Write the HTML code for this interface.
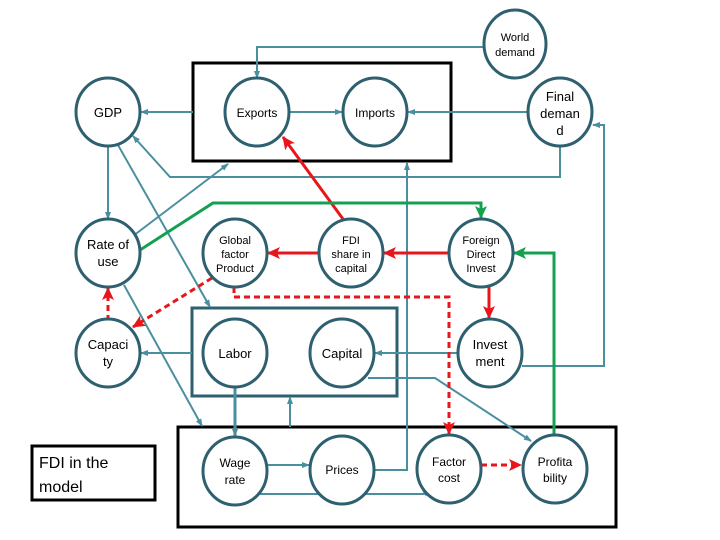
<!DOCTYPE html>
<html><head><meta charset="utf-8"><style>
html,body{margin:0;padding:0;background:#fff;}
svg{display:block;}
text{font-family:"Liberation Sans",sans-serif;fill:#000;}
</style></head><body>
<svg width="720" height="540" viewBox="0 0 720 540" xmlns="http://www.w3.org/2000/svg">
<defs>
<marker id="t" markerWidth="8" markerHeight="8" refX="7" refY="4" orient="auto" markerUnits="userSpaceOnUse"><path d="M0,1 L8,4 L0,7 Z" fill="#4a8fa0"/></marker>
<marker id="r" markerWidth="14" markerHeight="14" refX="12" refY="7" orient="auto" markerUnits="userSpaceOnUse"><path d="M0,1 L13,7 L0,13 L3,7 Z" fill="#e8161b"/></marker>
<marker id="g" markerWidth="14" markerHeight="14" refX="12" refY="7" orient="auto" markerUnits="userSpaceOnUse"><path d="M0,1 L13,7 L0,13 L3,7 Z" fill="#15a050"/></marker>
</defs>
<!-- boxes -->
<rect x="193" y="63" width="258" height="98" fill="none" stroke="#000" stroke-width="3"/>
<rect x="192" y="308" width="205" height="88" fill="none" stroke="#2e6070" stroke-width="3"/>
<rect x="178" y="427" width="438" height="100" fill="none" stroke="#000" stroke-width="3"/>
<rect x="32" y="446" width="123" height="54" fill="none" stroke="#000" stroke-width="3"/>
<text x="39" y="468" font-size="16">FDI in the</text>
<text x="39" y="492" font-size="16">model</text>
<!-- teal connectors -->
<g fill="none" stroke="#4a8fa0" stroke-width="2">
<path d="M485,47 H257 V78" marker-end="url(#t)"/>
<path d="M193,112 H141" marker-end="url(#t)"/>
<path d="M289,112 H342" marker-end="url(#t)"/>
<path d="M529,112 H408" marker-end="url(#t)"/>
<path d="M560,146 V177 H170 L133,136" marker-end="url(#t)"/>
<path d="M522,366 H604 V125 H593" marker-end="url(#t)"/>
<path d="M108,146 V219" marker-end="url(#t)"/>
<path d="M133,236 L228,164" marker-end="url(#t)"/>
<path d="M118,145 L210,307" marker-end="url(#t)"/>
<path d="M124,285 L202,426" marker-end="url(#t)"/>
<path d="M374,470 H407 V163" marker-end="url(#t)"/>
<path d="M192,353 H141" marker-end="url(#t)"/>
<path d="M458,353 H375" marker-end="url(#t)"/>
<path d="M235,388 V436" stroke-width="3" marker-end="url(#t)"/>
<path d="M290,427 V397" marker-end="url(#t)"/>
<path d="M368,378 H435 L531,441" marker-end="url(#t)"/>
<path d="M267,465 H309" marker-end="url(#t)"/>
<path d="M260,494 H424 L430,490" marker-end="url(#t)" marker-start="url(#t)"/>
</g>
<!-- red -->
<g fill="none" stroke="#e8161b" stroke-width="3">
<path d="M343,219 L283,137" marker-end="url(#r)"/>
<path d="M319,253 H268" marker-end="url(#r)"/>
<path d="M449,253 H384" marker-end="url(#r)"/>
<path d="M489,287 V318" marker-end="url(#r)"/>
<g stroke-dasharray="6,4">
<path d="M234,287 V297 H449 V434" marker-end="url(#r)"/>
<path d="M212,278 L133,327" marker-end="url(#r)"/>
<path d="M108,321 V288" marker-end="url(#r)"/>
<path d="M481,465 H521" marker-end="url(#r)"/>
</g>
</g>
<!-- green -->
<g fill="none" stroke="#15a050" stroke-width="3">
<path d="M140,250 L213,203 H481 V218" marker-end="url(#g)"/>
<path d="M554,435 V253 H514" marker-end="url(#g)"/>
</g>
<!-- nodes -->
<g fill="#fff" stroke="#2e6070" stroke-width="3">
<ellipse cx="515" cy="44" rx="31" ry="34"/>
<ellipse cx="108" cy="112" rx="32" ry="34"/>
<ellipse cx="257" cy="112" rx="32" ry="34"/>
<ellipse cx="375" cy="112" rx="32" ry="34"/>
<ellipse cx="560" cy="112" rx="32" ry="34"/>
<ellipse cx="108" cy="253" rx="32" ry="34"/>
<ellipse cx="235" cy="253" rx="32" ry="34"/>
<ellipse cx="351" cy="253" rx="32" ry="34"/>
<ellipse cx="481" cy="253" rx="32" ry="34"/>
<ellipse cx="108" cy="353" rx="32" ry="34"/>
<ellipse cx="235" cy="353" rx="32" ry="34"/>
<ellipse cx="342" cy="353" rx="32" ry="34"/>
<ellipse cx="490" cy="353" rx="32" ry="34"/>
<ellipse cx="235" cy="471" rx="32" ry="34"/>
<ellipse cx="342" cy="470" rx="32" ry="34"/>
<ellipse cx="449" cy="469" rx="32" ry="34"/>
<ellipse cx="555" cy="469" rx="32" ry="34"/>
</g>
<g font-size="12" text-anchor="middle">
<text x="515" y="41" font-size="11">World</text><text x="515" y="56" font-size="11">demand</text>
<text x="108" y="117" font-size="13">GDP</text>
<text x="257" y="117">Exports</text>
<text x="375" y="117">Imports</text>
<text x="560" y="101" font-size="13">Final</text><text x="560" y="118" font-size="13">deman</text><text x="560" y="135" font-size="13">d</text>
<text x="108" y="249" font-size="13">Rate of</text><text x="108" y="266" font-size="13">use</text>
<text x="235" y="244" font-size="11">Global</text><text x="235" y="258" font-size="11">factor</text><text x="235" y="272" font-size="11">Product</text>
<text x="351" y="244" font-size="11">FDI</text><text x="351" y="258" font-size="11">share in</text><text x="351" y="272" font-size="11">capital</text>
<text x="481" y="244" font-size="11">Foreign</text><text x="481" y="258" font-size="11">Direct</text><text x="481" y="272" font-size="11">Invest</text>
<text x="108" y="349" font-size="13">Capaci</text><text x="108" y="366" font-size="13">ty</text>
<text x="235" y="358" font-size="13">Labor</text>
<text x="342" y="358" font-size="13">Capital</text>
<text x="490" y="349" font-size="13">Invest</text><text x="490" y="366" font-size="13">ment</text>
<text x="235" y="467">Wage</text><text x="235" y="484">rate</text>
<text x="342" y="474">Prices</text>
<text x="449" y="466">Factor</text><text x="449" y="482">cost</text>
<text x="555" y="466">Profita</text><text x="555" y="482">bility</text>
</g>
</svg>
</body></html>
